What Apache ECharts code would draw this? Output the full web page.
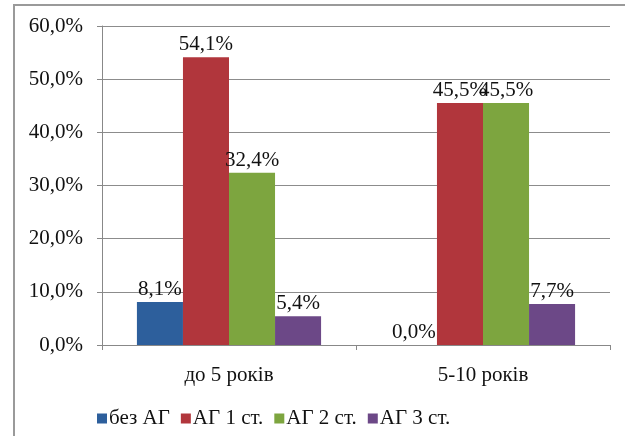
<!DOCTYPE html>
<html>
<head>
<meta charset="utf-8">
<style>
  html, body { margin: 0; padding: 0; background: #ffffff; }
  #chart { width: 625px; height: 436px; }
</style>
<script src="https://cdn.jsdelivr.net/npm/echarts@6/dist/echarts.min.js"></script>
</head>
<body>
<div id="chart"></div>
<script>
// Age groups on the category axis
const categories = ['до 5 років', '5-10 років'];
// Share of children (%) in each blood-pressure group
const seriesNames = ['без АГ', 'АГ 1 ст.', 'АГ 2 ст.', 'АГ 3 ст.'];
const bezAG = [8.1, 0.0];
const ag1 = [54.1, 45.5];
const ag2 = [32.4, 45.5];
const ag3 = [5.4, 7.7];
const yTicks = [0, 10, 20, 30, 40, 50, 60];

const colors = ['#2D5F9C', '#B1363C', '#7DA53F', '#6C4887'];
const font = '"Liberation Serif", "Times New Roman", serif';
const fmt = v => v.toFixed(1).replace('.', ',') + '%';

const chart = echarts.init(document.getElementById('chart'), null, { renderer: 'canvas' });

const makeSeries = (name, data, i) => ({
  name: name,
  type: 'bar',
  data: data,
  barGap: '0%',
  barCategoryGap: '27.5%',
  itemStyle: { color: colors[i] },
  label: {
    show: true,
    position: 'top',
    distance: 2,
    color: '#111',
    fontFamily: font,
    fontSize: 21,
    formatter: p => fmt(p.value)
  }
});

chart.setOption({
  animation: false,
  textStyle: { fontFamily: font },
  graphic: [{
    type: 'rect',
    shape: { x: 14, y: 5, width: 700, height: 500 },
    style: { fill: 'none', stroke: '#9a9a9a', lineWidth: 2 },
    silent: true
  }],
  grid: { left: 102, right: 15, top: 26, bottom: 91 },
  legend: {
    data: seriesNames,
    left: 92,
    top: 403,
    icon: 'rect',
    itemWidth: 10,
    itemHeight: 10,
    itemGap: 11,
    textStyle: { fontFamily: font, fontSize: 21, color: '#111', padding: [0, 0, 0, -3] }
  },
  xAxis: {
    type: 'category',
    data: categories,
    axisLine: { lineStyle: { color: '#888', width: 1 } },
    axisTick: { show: true, length: 5, lineStyle: { color: '#888' } },
    axisLabel: { fontFamily: font, fontSize: 21, color: '#111', margin: 20 }
  },
  yAxis: {
    type: 'value',
    min: yTicks[0],
    max: yTicks[yTicks.length - 1],
    interval: 10,
    axisLine: { show: true, lineStyle: { color: '#888', width: 1 } },
    axisTick: { show: true, length: 5, lineStyle: { color: '#888' } },
    splitLine: { lineStyle: { color: '#8c8c8c', width: 1 } },
    axisLabel: {
      fontFamily: font, fontSize: 21, color: '#111', margin: 19,
      formatter: v => fmt(v)
    }
  },
  series: [
    makeSeries(seriesNames[0], bezAG, 0),
    makeSeries(seriesNames[1], ag1, 1),
    makeSeries(seriesNames[2], ag2, 2),
    makeSeries(seriesNames[3], ag3, 3)
  ]
});
</script>
</body>
</html>
